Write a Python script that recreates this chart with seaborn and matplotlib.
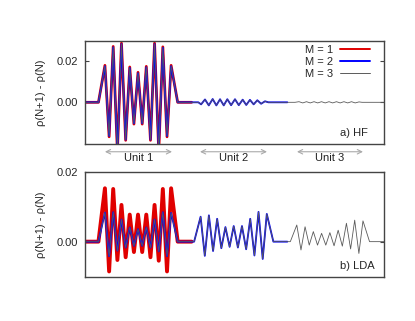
"""
Density difference rho(N+1) - rho(N) for HF and LDA, three units.
"""

import matplotlib
matplotlib.use("Agg")
import matplotlib.pyplot as plt
import seaborn as sns

# Extrema positions along the chain (start, alternating peak/trough, end)
U1_X = [1.35, 2.00, 2.42, 2.83, 3.25, 3.66, 4.08, 4.49, 4.91, 5.32,
        5.74, 6.15, 6.57, 6.98, 7.40, 7.81, 8.23, 8.64, 9.30]
U2_X = [10.95, 11.60, 12.02, 12.43, 12.85, 13.26, 13.68, 14.09, 14.51, 14.92,
        15.34, 15.75, 16.17, 16.58, 17.00, 17.41, 17.83, 18.24, 18.90]
U3_X = [20.60, 21.25, 21.67, 22.08, 22.50, 22.91, 23.33, 23.74, 24.16, 24.57,
        24.99, 25.40, 25.82, 26.23, 26.65, 27.06, 27.48, 27.89, 28.55]
HF_U2_X = [11.37, 11.65, 12.04, 12.42, 12.81, 13.18, 13.55, 13.92, 14.28, 14.66,
           15.05, 15.43, 15.82, 16.18, 16.55, 16.92, 17.29, 17.67, 18.06, 18.40]
HF_U3_X = [21.07, 21.47, 21.85, 22.22, 22.60, 22.98, 23.35, 23.73, 24.10, 24.48,
           24.85, 25.23, 25.60, 25.98, 26.36, 26.74, 27.11, 27.49, 27.80]

# a) HF
HF_RED_U1 = [0, 0.0180, -0.0168, 0.0272, -0.0240, 0.0288, -0.0185, 0.0172, -0.0106,
             0.0146, -0.0106, 0.0175, -0.0185, 0.0288, -0.0240, 0.0270, -0.0168, 0.0180, 0]
HF_BLUE_U1 = [0, 0.0176, -0.0164, 0.0268, -0.0236, 0.0284, -0.0182, 0.0168, -0.0103,
              0.0142, -0.0103, 0.0171, -0.0182, 0.0284, -0.0236, 0.0266, -0.0164, 0.0176, 0]
HF_BLUE_U2 = [0, -0.0010, 0.0014, -0.0015, 0.0016, -0.0015, 0.0015, -0.0015, 0.0015, -0.0014,
              0.0015, -0.0014, 0.0013, -0.0013, 0.0012, -0.0010, 0.0010, -0.0007, 0.0005, 0]
HF_GRAY_U3 = [0, 0.0003, -0.0003, 0.0003, -0.0003, 0.0003, -0.0003, 0.0003, -0.0003, 0.0003,
              -0.0003, 0.0003, -0.0003, 0.0003, -0.0003, 0.0003, -0.0003, 0.0002, 0]

# b) LDA
LDA_RED_U1 = [0, 0.0154, -0.0086, 0.0152, -0.0053, 0.0106, -0.0045, 0.0078, -0.0030,
              0.0078, -0.0030, 0.0078, -0.0045, 0.0106, -0.0055, 0.0152, -0.0086, 0.0154, 0]
LDA_BLUE_U1 = [0, 0.0084, -0.0042, 0.0085, -0.0026, 0.0064, -0.0017, 0.0041, -0.0012,
               0.0036, -0.0012, 0.0041, -0.0017, 0.0064, -0.0028, 0.0085, -0.0042, 0.0083, 0]
LDA_BLUE_U2 = [0, 0.0072, -0.0041, 0.0076, -0.0027, 0.0066, -0.0019, 0.0042, -0.0015,
               0.0045, -0.0017, 0.0045, -0.0022, 0.0066, -0.0040, 0.0086, -0.0050, 0.0080, 0]
LDA_GRAY_U3 = [0, 0.0048, -0.0024, 0.0043, -0.0010, 0.0029, -0.0010, 0.0024, -0.0010,
               0.0026, -0.0012, 0.0033, -0.0013, 0.0053, -0.0021, 0.0062, -0.0034, 0.0060, 0]

X_MAX = 30.0
RED_END = 10.7
BLUE_END = 20.3

UNIT_LABELS = ["Unit 1", "Unit 2", "Unit 3"]
UNIT_SPANS = [(2.0, 8.73), (11.54, 18.26), (21.27, 27.89)]

RED = "#e00000"
BLUE = "#0000ff"
GRAY = "#5a5a5a"

sns.set_style("ticks")
plt.rcParams["font.family"] = ["Liberation Sans", "DejaVu Sans"]
plt.rcParams["font.size"] = 8


def series(parts, end):
    xs, ys = [0.0], [0.0]
    for px, py in parts:
        xs += px
        ys += py
    xs.append(end)
    ys.append(0.0)
    return xs, ys


def draw(ax, red_parts, blue_parts, gray_parts, red_lw):
    xr, yr = series(red_parts, RED_END)
    xb, yb = series(blue_parts, BLUE_END)
    xg, yg = series(gray_parts, X_MAX)
    common = dict(ax=ax, estimator=None, sort=False,
                  solid_joinstyle="round", solid_capstyle="round")
    sns.lineplot(x=xr, y=yr, color=RED, lw=red_lw, label="M = 1", **common)
    sns.lineplot(x=xb, y=yb, color=BLUE, lw=1.3, label="M = 2", **common)
    sns.lineplot(x=xg, y=yg, color=GRAY, lw=0.6, label="M = 3", **common)
    ax.set_xlim(0, X_MAX)
    ax.set_xticks([])
    ax.set_yticks([0.0, 0.02])
    ax.set_yticklabels(["0.00", "0.02"])
    ax.tick_params(axis="y", direction="in", length=3, right=True,
                   labelsize=8, pad=5, color="#444444")
    for sp in ax.spines.values():
        sp.set_color("#444444")
        sp.set_linewidth(1.0)
    ax.set_ylabel("ρ(N+1) - ρ(N)", fontsize=8)
    ax.yaxis.set_label_coords(-0.13, 0.5)
    ax.set_xlabel("")


fig = plt.figure(figsize=(4.15, 3.21), dpi=100)
ax_top = fig.add_axes([0.2048, 0.5514, 0.7205, 0.3218])
ax_bot = fig.add_axes([0.2048, 0.1371, 0.7205, 0.3260])

draw(ax_top,
     [(U1_X, HF_RED_U1)],
     [(U1_X, HF_BLUE_U1), (HF_U2_X, HF_BLUE_U2)],
     [(U1_X, HF_BLUE_U1), (HF_U2_X, HF_BLUE_U2), (HF_U3_X, HF_GRAY_U3)],
     red_lw=2.0)
ax_top.set_ylim(-0.0203, 0.030)

draw(ax_bot,
     [(U1_X, LDA_RED_U1)],
     [(U1_X, LDA_BLUE_U1), (U2_X, LDA_BLUE_U2)],
     [(U1_X, LDA_BLUE_U1), (U2_X, LDA_BLUE_U2), (U3_X, LDA_GRAY_U3)],
     red_lw=2.8)
ax_bot.set_ylim(-0.0102, 0.020)

leg = ax_top.legend(loc="upper right", bbox_to_anchor=(0.953, 0.955),
                    frameon=False, markerfirst=False, borderpad=0,
                    borderaxespad=0, handlelength=2.7, labelspacing=0.15,
                    fontsize=8, handletextpad=0.6)
for line, lw in zip(leg.get_lines(), [1.4, 1.4, 0.7]):
    line.set_linewidth(lw)
ax_bot.get_legend().remove()

ax_top.text(0.945, 0.06, "a) HF", transform=ax_top.transAxes,
            ha="right", va="bottom", fontsize=8)
ax_bot.text(0.97, 0.055, "b) LDA", transform=ax_bot.transAxes,
            ha="right", va="bottom", fontsize=8)

# unit markers under the top panel
for label, (x0, x1) in zip(UNIT_LABELS, UNIT_SPANS):
    ax_top.annotate("", xy=(x0, -0.075), xytext=(x1, -0.075),
                    xycoords=("data", "axes fraction"),
                    textcoords=("data", "axes fraction"),
                    arrowprops=dict(arrowstyle="<->", color="#aaaaaa", lw=0.8,
                                    shrinkA=0, shrinkB=0),
                    annotation_clip=False)
    ax_top.text((x0 + x1) / 2, -0.14, label, ha="center", va="center",
                fontsize=8, color="#222222",
                transform=ax_top.get_xaxis_transform())

fig.savefig("out.png", dpi=100)
